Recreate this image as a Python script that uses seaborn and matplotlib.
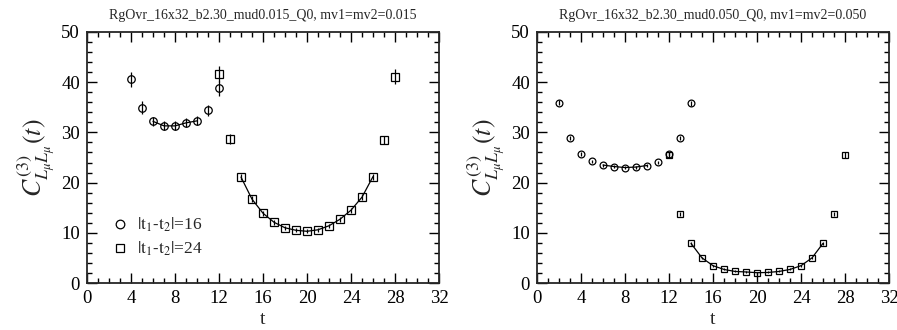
import numpy as np
import pandas as pd
import matplotlib
matplotlib.use("Agg")
import matplotlib.pyplot as plt
from matplotlib.lines import Line2D
from matplotlib.ticker import MultipleLocator
import seaborn as sns

# ---------------- data ----------------
titles = ["RgOvr_16x32_b2.30_mud0.015_Q0, mv1=mv2=0.015",
          "RgOvr_16x32_b2.30_mud0.050_Q0, mv1=mv2=0.050"]

# left panel, |t1-t2|=16 (circles)
l16_t = [4, 5, 6, 7, 8, 9, 10, 11, 12]
l16_y = [40.6, 34.9, 32.2, 31.3, 31.3, 31.9, 32.3, 34.4, 38.8]
l16_e = [1.5, 1.3, 0.9, 0.9, 0.9, 0.9, 0.9, 1.1, 1.45]
# left panel, |t1-t2|=24 (squares)
l24_t = [12, 13, 14, 15, 16, 17, 18, 19, 20, 21, 22, 23, 24, 25, 26, 27, 28]
l24_y = [41.6, 28.7, 21.1, 16.7, 13.9, 12.1, 11.0, 10.5, 10.3, 10.6, 11.4,
         12.7, 14.5, 17.1, 21.2, 28.5, 41.1]
l24_e = [1.6, 1.0, 0.6, 0.6, 0.5, 0.5, 0.4, 0.4, 0.4, 0.4, 0.4,
         0.5, 0.5, 0.6, 0.6, 0.8, 1.5]

# right panel, |t1-t2|=16 (circles)
r16_t = [2, 3, 4, 5, 6, 7, 8, 9, 10, 11, 12, 13, 14]
r16_y = [35.9, 28.8, 25.6, 24.3, 23.5, 23.2, 23.0, 23.1, 23.4, 24.1, 25.6, 28.8, 35.8]
r16_e = [0.5, 0.4, 0.4, 0.3, 0.3, 0.3, 0.3, 0.3, 0.3, 0.3, 0.4, 0.4, 0.5]
# right panel, |t1-t2|=24 (squares)
r24_t = [12, 13, 14, 15, 16, 17, 18, 19, 20, 21, 22, 23, 24, 25, 26, 27, 28]
r24_y = [25.5, 13.7, 7.9, 5.0, 3.45, 2.7, 2.3, 2.2, 2.05, 2.1, 2.3, 2.7, 3.45,
         5.0, 7.9, 13.7, 25.5]
r24_e = [0.5, 0.4, 0.3, 0.2, 0.2, 0.2, 0.2, 0.2, 0.2, 0.2, 0.2, 0.2, 0.2,
         0.2, 0.3, 0.4, 0.5]

# fit ranges
fit16 = (6, 10)
fit24 = (14, 26)

legend_labels = [r"$|\mathrm{t}_1\text{-}\mathrm{t}_2|$=16",
                 r"$|\mathrm{t}_1\text{-}\mathrm{t}_2|$=24"]
ylabel = r"$C^{(3)}_{L_\mu L_\mu}(t)$"
xlabel = "t"

# ---------------- style ----------------
sns.set_style("ticks")
plt.rcParams["font.family"] = ["Liberation Serif", "DejaVu Serif"]
plt.rcParams["mathtext.fontset"] = "stix"

fig = plt.figure(figsize=(8.97, 3.30), dpi=100)
axL = fig.add_axes([87/897, 1-283/330, (439-87)/897, (283-32)/330])
axR = fig.add_axes([537/897, 1-283/330, (889-537)/897, (283-32)/330])

panels = [
    (axL, l16_t, l16_y, l16_e, l24_t, l24_y, l24_e, 5.4),
    (axR, r16_t, r16_y, r16_e, r24_t, r24_y, r24_e, 4.9),
]

for i, (ax, t16, y16, e16, t24, y24, e24, ms) in enumerate(panels):
    df16 = pd.DataFrame({"t": t16, "y": y16, "e": e16})
    df24 = pd.DataFrame({"t": t24, "y": y24, "e": e24})
    # fit lines (through the data in fit range)
    f16 = df16[(df16.t >= fit16[0]) & (df16.t <= fit16[1])]
    f24 = df24[(df24.t >= fit24[0]) & (df24.t <= fit24[1])]
    sns.lineplot(data=f16, x="t", y="y", ax=ax, color="black", lw=0.9,
                 estimator=None, sort=True)
    sns.lineplot(data=f24, x="t", y="y", ax=ax, color="black", lw=0.9,
                 estimator=None, sort=True)
    ax.errorbar(df16.t, df16.y, yerr=df16.e, fmt="o", mfc="none", mec="black",
                ecolor="black", ms=ms, mew=0.9, elinewidth=0.9, capsize=0)
    ax.errorbar(df24.t, df24.y, yerr=df24.e, fmt="s", mfc="none", mec="black",
                ecolor="black", ms=ms * 0.95, mew=0.9, elinewidth=0.9, capsize=0)

    ax.set_xlim(0, 32)
    ax.set_ylim(0, 50)
    ax.xaxis.set_major_locator(MultipleLocator(4))
    ax.xaxis.set_minor_locator(MultipleLocator(1))
    ax.yaxis.set_major_locator(MultipleLocator(10))
    ax.yaxis.set_minor_locator(MultipleLocator(2))
    ax.tick_params(which="both", direction="in", top=True, right=True,
                   labelsize=13.5, width=1.0, colors="black")
    ax.tick_params(which="major", length=7, pad=5)
    ax.tick_params(which="minor", length=3.5)
    for sp in ax.spines.values():
        sp.set_linewidth(1.3)
        sp.set_visible(True)
    ax.set_xlabel(xlabel, fontsize=14, labelpad=3)
    ax.set_ylabel(ylabel, fontsize=18.5, labelpad=3)
    ax.set_title(titles[i], fontsize=10, pad=9)

handles = [Line2D([], [], ls="none", marker="o", mfc="none", mec="black", ms=6.2, mew=0.9),
           Line2D([], [], ls="none", marker="s", mfc="none", mec="black", ms=5.9, mew=0.9)]
axL.legend(handles, legend_labels, loc="lower left", bbox_to_anchor=(0.045, 0.07),
           frameon=False, fontsize=12.5, handletextpad=0.35, handlelength=1.2,
           labelspacing=0.35, borderaxespad=0)

fig.savefig("out.png", dpi=100)
